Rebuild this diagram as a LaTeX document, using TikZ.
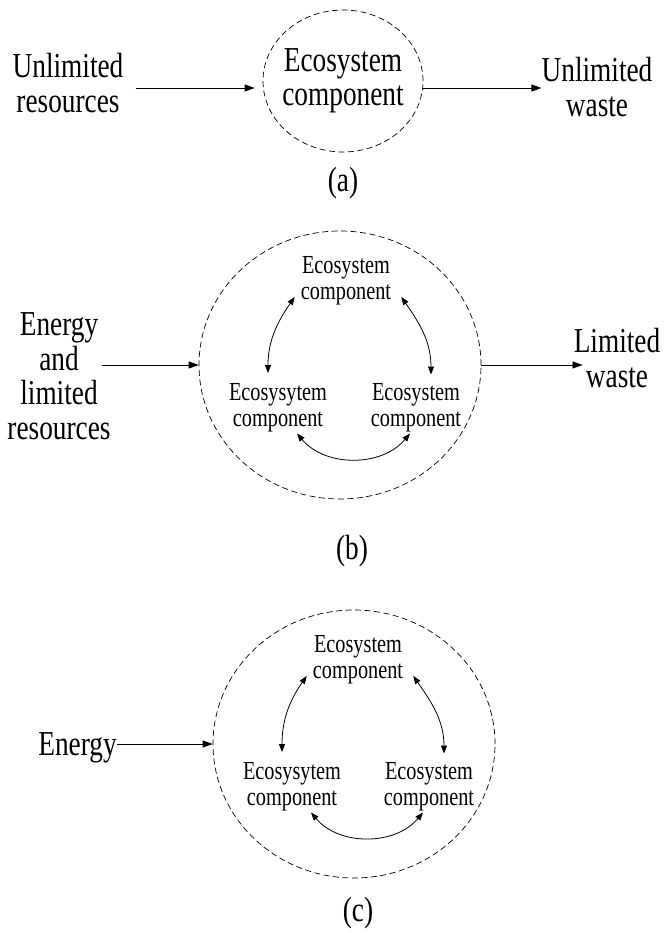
\documentclass[tikz,border=0pt]{standalone}
\usepackage{fontspec}
\setmainfont{Liberation Serif}[FakeStretch=0.78]
\usetikzlibrary{arrows.meta,shapes.geometric,calc}

\tikzset{
  bigtext/.style={font=\fontsize{35}{34.5}\selectfont, align=center, inner sep=0pt},
  smalltext/.style={font=\fontsize{26}{26}\selectfont, align=center, inner sep=0pt},
  ring/.style={draw, ellipse, line width=0.7pt, dash pattern=on 6pt off 3.5pt, inner sep=0pt},
  flow/.style={line width=0.8pt, -{Triangle[length=10pt,width=7pt]}},
  cycle/.style={line width=0.8pt, {Triangle[length=8pt,width=6pt]}-{Triangle[length=8pt,width=6pt]}}
}

\begin{document}
\begin{tikzpicture}[x=1pt, y=1pt]
\useasboundingbox (0,0) rectangle (666,-933);

% ---------- (a) open system ----------
\node[bigtext] (resA) at (68,-83) {Unlimited\\resources};
\node[ring, minimum width=160pt, minimum height=142pt] (ringA) at (343,-81) {};
\node[bigtext] (ecoA) at (ringA.center) {Ecosystem\\component};
\node[bigtext] (wasteA) at (597,-87) {Unlimited\\waste};
\coordinate (yA) at (0,-88);
\draw[flow, shorten <=12pt, shorten >=8pt] (resA.east |- yA) -- (ringA.west |- yA);
\draw[flow] (ringA.east |- yA) -- (wasteA.west |- yA);
\node[bigtext] (labA) at (343,-183) {(a)};

% ---------- (b) partly closed system ----------
\node[bigtext] (resB) at (59,-376) {Energy\\and\\limited\\resources};
\node[ring, minimum width=282pt, minimum height=268pt] (ringB) at (340,-365) {};
\node[bigtext] (wasteB) at (617,-358) {Limited\\waste};
\draw[flow, shorten <=-9pt] (resB.east |- ringB.west) -- (ringB.west);
\draw[flow, shorten >=-9pt] (ringB.east) -- (wasteB.west |- ringB.east);

\node[smalltext] (tB) at (346,-280.5) {Ecosystem\\component};
\node[smalltext] (lB) at (278,-407.5) {Ecosysytem\\component};
\node[smalltext] (rB) at (416,-407.5) {Ecosystem\\component};
\draw[cycle] ($(tB.south west)+(-6,8)$) to[out=235, in=90] ($(lB.north)+(-10,10)$);
\draw[cycle] ($(tB.south east)+(10,8)$) to[out=305, in=90] ($(rB.north)+(15,8.5)$);
\draw[cycle] ($(lB.south)+(19,-1.5)$) to[bend right=50] ($(rB.south)+(-6,-1.5)$);
\node[bigtext] (labB) at (352,-551) {(b)};

% ---------- (c) closed system ----------
\node[bigtext] (enC) at (77.5,-747.7) {Energy};
\node[ring, minimum width=282pt, minimum height=268pt] (ringC) at (354,-744) {};
\draw[flow] (enC.east |- ringC.west) -- (ringC.west);

\node[smalltext] (tC) at (358,-659.5) {Ecosystem\\component};
\node[smalltext] (lC) at (292,-786.5) {Ecosysytem\\component};
\node[smalltext] (rC) at (429,-786.5) {Ecosystem\\component};
\draw[cycle] ($(tC.south west)+(-6,8)$) to[out=235, in=90] ($(lC.north)+(-10,10)$);
\draw[cycle] ($(tC.south east)+(10,8)$) to[out=305, in=90] ($(rC.north)+(15,8.5)$);
\draw[cycle] ($(lC.south)+(19,-1.5)$) to[bend right=50] ($(rC.south)+(-6,-1.5)$);
\node[bigtext] (labC) at (358,-913) {(c)};
\end{tikzpicture}
\end{document}
